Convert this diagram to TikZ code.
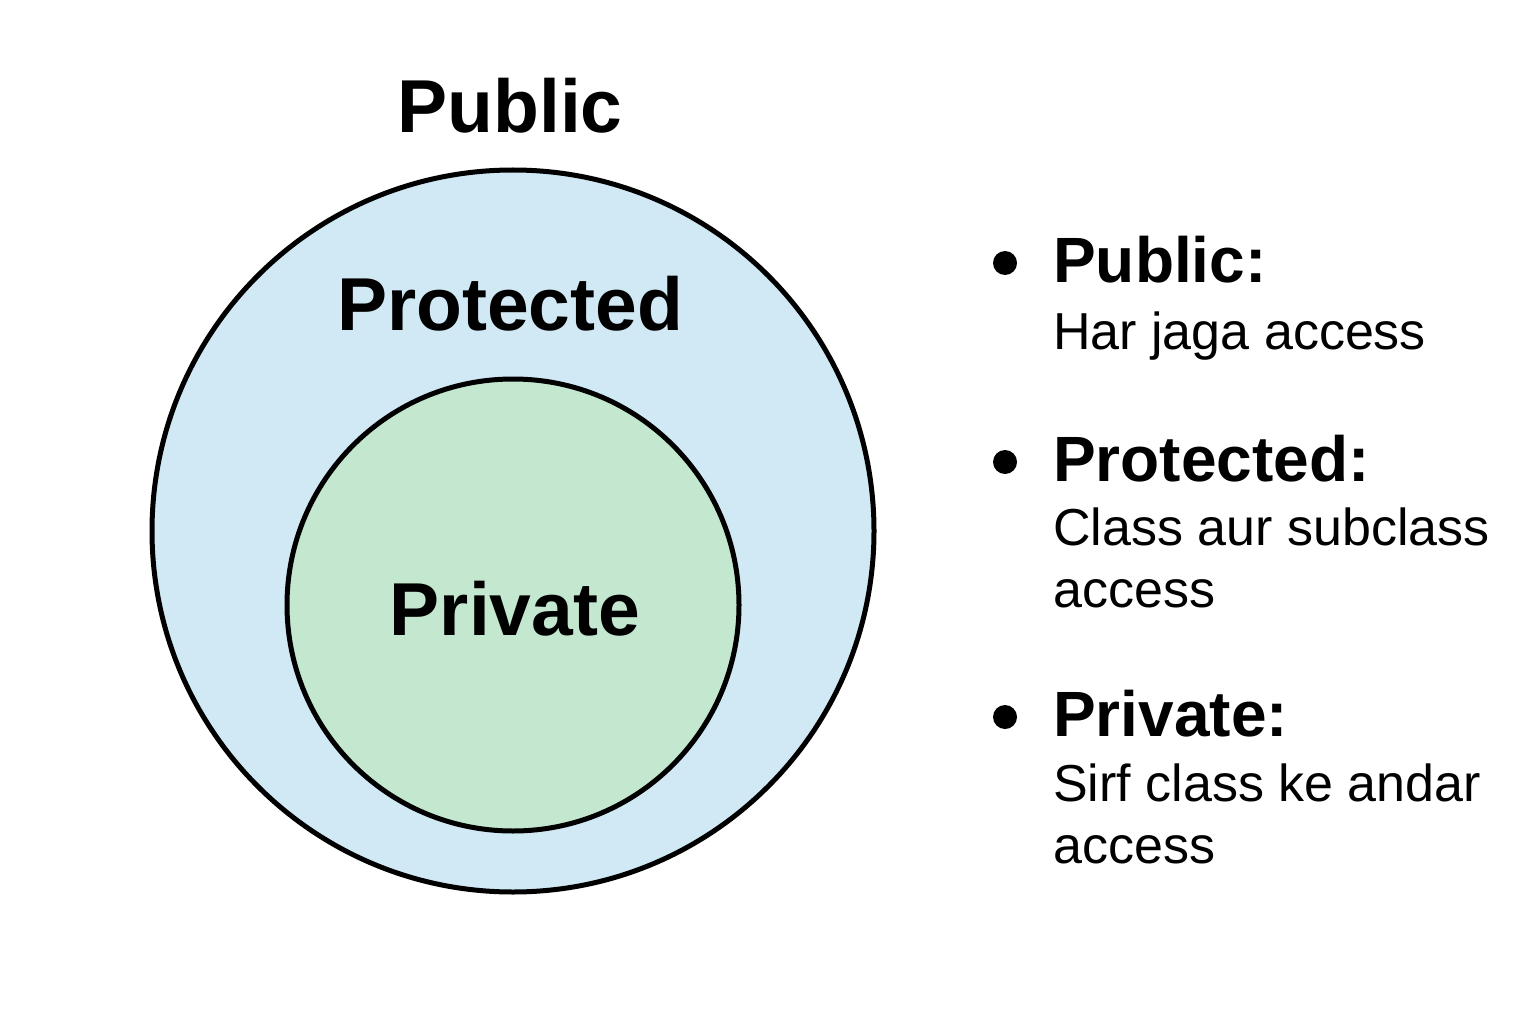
\documentclass[tikz,border=0pt]{standalone}
\usepackage{fontspec}
\setmainfont{Liberation Sans}
\definecolor{outerblue}{HTML}{D1E9F5}
\definecolor{innergreen}{HTML}{C4E8CF}

\begin{document}
\begin{tikzpicture}[x=1pt, y=-1pt,
  ring/.style={circle, draw, line width=5pt, inner sep=0pt},
  biglbl/.style={anchor=base, inner sep=0pt, font=\fontsize{75}{80}\selectfont\bfseries},
  head/.style={anchor=base west, inner sep=0pt, font=\fontsize{64}{70}\selectfont\bfseries},
  desc/.style={anchor=base west, inner sep=0pt, font=\fontsize{52}{60}\selectfont},
  dot/.style={circle, fill, inner sep=0pt, minimum size=24pt}]
  \useasboundingbox (0,0) rectangle (1536,1024);
  % nested access circles
  \node[ring, fill=outerblue, minimum size=722pt] (outer) at (513,531) {};
  \node[ring, fill=innergreen, minimum size=452pt] (inner) at (513,605) {};
  \node[biglbl] (publbl) at (510,133) {Public};
  \node[biglbl] (protlbl) at (510,330) {Protected};
  \node[biglbl] (privlbl) at (515,635) {Private};
  % legend: public
  \node[dot] (pubdot) at (1005,263) {};
  \node[head] (pubhead) at (1053,283) {Public:};
  \node[desc] (pubdesc) at (1053,349) {Har jaga access};
  % legend: protected
  \node[dot] (protdot) at (1005,462) {};
  \node[head] (prothead) at (1053,481) {Protected:};
  \node[desc] (protdesca) at (1053,545) {Class aur subclass};
  \node[desc] (protdescb) at (1053,607) {access};
  % legend: private
  \node[dot] (privdot) at (1005,717) {};
  \node[head] (privhead) at (1053,736) {Private:};
  \node[desc] (privdesca) at (1053,801) {Sirf class ke andar};
  \node[desc] (privdescb) at (1053,863) {access};
\end{tikzpicture}
\end{document}
